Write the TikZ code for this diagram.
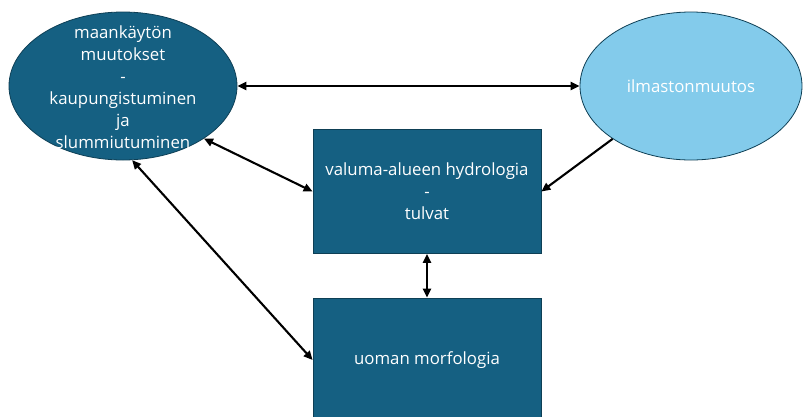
\documentclass[tikz,border=0pt]{standalone}
\usepackage{fontspec}
\setmainfont{Open Sans}
\usetikzlibrary{shapes.geometric,arrows.meta}
\definecolor{darkblue}{HTML}{156082}
\definecolor{lightblue}{HTML}{83CBEB}
\definecolor{outl}{HTML}{0E3F55}
\begin{document}
\begin{tikzpicture}[x=1pt,y=-1pt,
  oval/.style={ellipse, draw=outl, line width=0.8pt, inner sep=0pt},
  boxnode/.style={rectangle, draw=outl, line width=0.8pt, fill=darkblue, minimum width=228pt, minimum height=124pt, inner sep=0pt},
  txt/.style={text=white, align=center, font=\fontsize{16.8}{22}\selectfont},
  conn/.style={line width=2.1pt, black, {Triangle[length=9pt,width=8pt]}-{Triangle[length=9pt,width=8pt]}},
  conn1/.style={line width=2.1pt, black, -{Triangle[length=9pt,width=8pt]}}]
\useasboundingbox (0,0) rectangle (803,416);
\node[oval, fill=darkblue, minimum width=228pt, minimum height=148pt] (land) at (123,86) {};
\node[txt] (landtxt) at (123,87) {maankäytön\\muutokset\\-\\kaupungistuminen\\ja\\slummiutuminen};
\node[oval, fill=lightblue, minimum width=222pt, minimum height=148pt] (climate) at (691,86) {};
\node[txt] (climtxt) at (climate) {ilmastonmuutos};
\node[boxnode] (hydro) at (427,191.5) {};
\node[txt] (hydrotxt) at (hydro) {valuma-alueen hydrologia\\-\\tulvat};
\node[boxnode] (morph) at (427,360) {};
\node[txt] (morphtxt) at (morph) {uoman morfologia};
\draw[conn] (land.0) -- (climate.180);
\draw[conn] (land.-33.4) -- (hydro.west);
\draw[conn] (land.-83) -- (morph.west);
\draw[conn1] (climate.-146) -- (hydro.east);
\draw[conn] (hydro.south) -- (morph.north);
\end{tikzpicture}
\end{document}
